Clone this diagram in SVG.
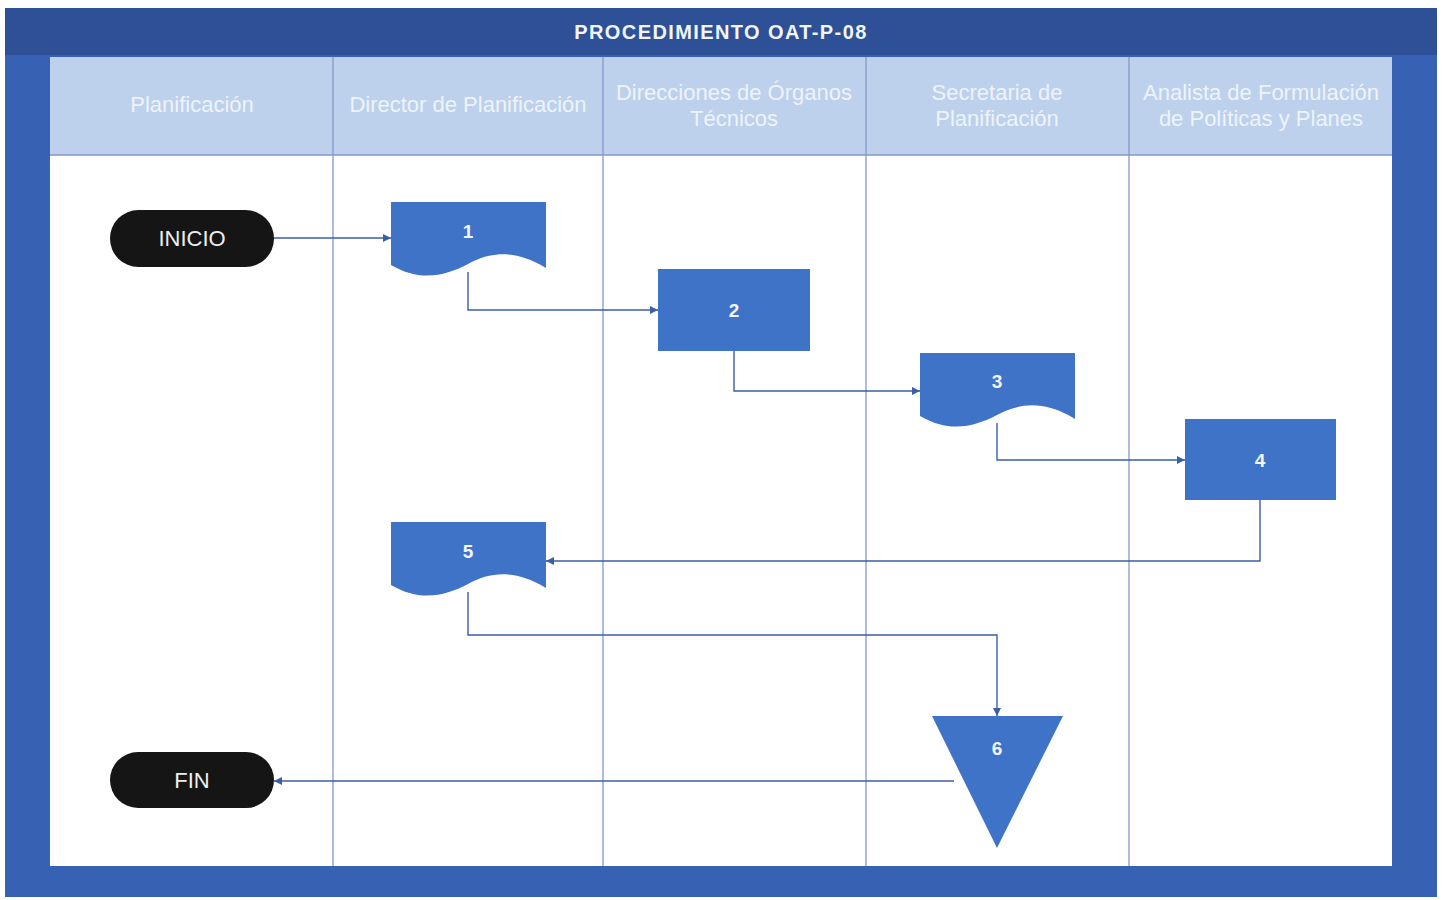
<svg xmlns="http://www.w3.org/2000/svg" width="1443" height="900" viewBox="0 0 1443 900">
<style>
.hdr{font-family:"Liberation Sans",Arial,sans-serif;font-size:22px;fill:#eef3fb;text-anchor:middle}
.num{font-family:"Liberation Sans",Arial,sans-serif;font-size:19px;font-weight:bold;fill:#f2f5fb;text-anchor:middle}
.term{font-family:"Liberation Sans",Arial,sans-serif;font-size:22px;fill:#eeeeee;text-anchor:middle}
.shape{fill:#3f73c8}
.pill{fill:#151515}
.conn{fill:none;stroke:#3b5ea8;stroke-width:1.4}
.div{stroke:#8299c9;stroke-width:1.3}
</style>
<defs>
<marker id="ah" viewBox="0 0 10 10" refX="10" refY="5" markerWidth="8" markerHeight="8" markerUnits="userSpaceOnUse" orient="auto">
<path d="M0,0 L10,5 L0,10 Z" fill="#3b5ea8"/>
</marker>
</defs>
<rect width="1443" height="900" fill="#ffffff"/>
<g id="frame">
<rect x="5" y="8" width="1432" height="889" fill="#3762b3"/>
<rect x="5" y="8" width="1432" height="47" fill="#2d5097"/>
<rect x="50" y="57" width="1342" height="98" fill="#bdd1ec"/>
<rect x="50" y="155" width="1342" height="711" fill="#ffffff"/>
<line class="div" x1="50" y1="155" x2="1392" y2="155"/>
<line class="div" x1="333" y1="57" x2="333" y2="866"/>
<line class="div" x1="603" y1="57" x2="603" y2="866"/>
<line class="div" x1="866" y1="57" x2="866" y2="866"/>
<line class="div" x1="1129" y1="57" x2="1129" y2="866"/>
<text x="721" y="39" font-family="Liberation Sans,Arial,sans-serif" font-size="20" font-weight="bold" letter-spacing="1.4" fill="#f2f5fb" text-anchor="middle">PROCEDIMIENTO OAT-P-08</text>
<text class="hdr" x="192" y="112">Planificación</text>
<text class="hdr" x="468" y="112">Director de Planificación</text>
<text class="hdr" x="734" y="100">Direcciones de Órganos</text>
<text class="hdr" x="734" y="126">Técnicos</text>
<text class="hdr" x="997" y="100">Secretaria de</text>
<text class="hdr" x="997" y="126">Planificación</text>
<text class="hdr" x="1261" y="100">Analista de Formulación</text>
<text class="hdr" x="1261" y="126">de Políticas y Planes</text>
</g>
<g id="connectors">
<path class="conn" d="M274,238 H391" marker-end="url(#ah)"/>
<path class="conn" d="M468,272 V310 H658" marker-end="url(#ah)"/>
<path class="conn" d="M734,351 V391 H920" marker-end="url(#ah)"/>
<path class="conn" d="M997,423 V460 H1185" marker-end="url(#ah)"/>
<path class="conn" d="M1260,500 V561 H546" marker-end="url(#ah)"/>
<path class="conn" d="M468,592 V635 H997 V716" marker-end="url(#ah)"/>
<path class="conn" d="M954,781 H274" marker-end="url(#ah)"/>
</g>
<g id="inicio">
<rect class="pill" x="110" y="210" width="164" height="57" rx="28.5"/>
<text class="term" x="192" y="246">INICIO</text>
</g>
<g id="n1">
<path class="shape" d="M391,202 H546 V268 C515,249 490,252 468,264 C445,276 420,282 391,265 Z"/>
<text class="num" x="468" y="238">1</text>
</g>
<g id="n2">
<rect class="shape" x="658" y="269" width="152" height="82"/>
<text class="num" x="734" y="317">2</text>
</g>
<g id="n3">
<path class="shape" d="M920,353 H1075 V419 C1044,400 1019,403 997,415 C974,427 949,433 920,416 Z"/>
<text class="num" x="997" y="388">3</text>
</g>
<g id="n4">
<rect class="shape" x="1185" y="419" width="151" height="81"/>
<text class="num" x="1260" y="467">4</text>
</g>
<g id="n5">
<path class="shape" d="M391,522 H546 V588 C515,569 490,572 468,584 C445,596 420,602 391,585 Z"/>
<text class="num" x="468" y="558">5</text>
</g>
<g id="n6">
<path class="shape" d="M932,716 H1063 L997,848 Z"/>
<text class="num" x="997" y="755">6</text>
</g>
<g id="fin">
<rect class="pill" x="110" y="752" width="164" height="56" rx="28"/>
<text class="term" x="192" y="788">FIN</text>
</g>
</svg>
